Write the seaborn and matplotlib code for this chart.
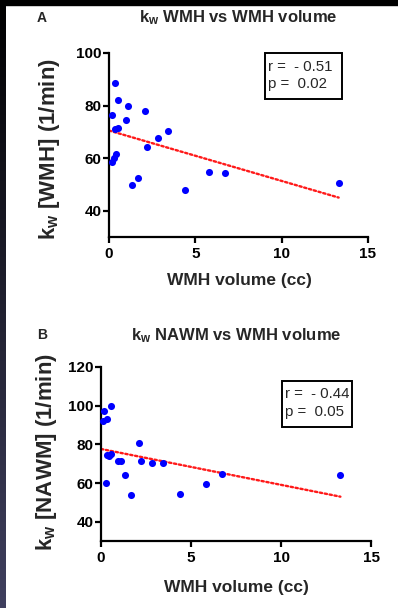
import numpy as np
import pandas as pd
import matplotlib
matplotlib.use("Agg")
import matplotlib.pyplot as plt
from matplotlib.patches import Rectangle
import seaborn as sns

# ---- data ----
wmh_vol_a = [0.37, 0.52, 0.19, 1.08, 2.10, 0.98, 0.33, 0.52, 3.44, 2.84,
             2.20, 0.41, 0.27, 0.15, 1.66, 1.31, 4.42, 5.81, 6.74, 13.30]
kw_wmh = [88.6, 82.3, 76.5, 79.7, 78.1, 74.7, 71.1, 71.4, 70.5, 67.5,
          64.1, 61.4, 60.1, 58.6, 52.5, 49.7, 47.8, 54.8, 54.2, 50.6]
fit_x_a = [0.0, 13.3]
fit_y_a = [70.5, 45.0]

wmh_vol_b = [0.19, 0.54, 0.09, 0.35, 2.10, 0.32, 0.43, 0.54, 0.96, 1.09,
             2.20, 2.82, 3.43, 1.34, 0.28, 1.65, 4.40, 5.83, 6.72, 13.27]
kw_nawm = [97.4, 99.7, 91.9, 92.9, 80.5, 74.7, 74.2, 75.0, 71.3, 71.3,
           71.3, 70.6, 70.2, 64.4, 59.9, 54.0, 54.4, 59.5, 64.7, 64.4]
fit_x_b = [0.0, 13.3]
fit_y_b = [77.6, 53.0]

x_ticks = [0, 5, 10, 15]
y_ticks_a = [40, 60, 80, 100]
y_ticks_b = [40, 60, 80, 100, 120]
stats_a = "r =  - 0.51\np =  0.02"
stats_b = "r =  - 0.44\np =  0.05"

# ---- style ----
sns.set_theme(style="ticks")
plt.rcParams["font.family"] = ["Liberation Sans", "DejaVu Sans"]
plt.rcParams["font.weight"] = "bold"
plt.rcParams["mathtext.fontset"] = "custom"
plt.rcParams["mathtext.rm"] = "Liberation Sans:bold"
plt.rcParams["mathtext.bf"] = "Liberation Sans:bold"
plt.rcParams["mathtext.it"] = "Liberation Sans:bold"

W, H = 398, 608
fig = plt.figure(figsize=(W / 100, H / 100), dpi=100)
fig.patch.set_facecolor("white")

# dark frame: top band and left gradient strip
fig.patches.append(Rectangle((0, 1 - 5 / H), 1, 5 / H, transform=fig.transFigure,
                             color="black", zorder=0))
strip = fig.add_axes([0, 0, 6 / W, 1])
grad = np.linspace(0, 1, 256).reshape(-1, 1)
cmap = matplotlib.colors.LinearSegmentedColormap.from_list("s", ["#000000", "#40405f"])
strip.imshow(grad, aspect="auto", cmap=cmap, extent=[0, 1, 1, 0])
strip.set_axis_off()

axA = fig.add_axes([109 / W, 1 - 237 / H, 259 / W, 184 / H])
axB = fig.add_axes([101 / W, 1 - 541.3 / H, 270 / W, 174.6 / H])


def panel(ax, x, y, fx, fy, ylim, yticks, ylabel, title, stats,
          box, txt_x, txt_y, ylab_xy, xlab_xy, title_xy):
    df = pd.DataFrame({"x": x, "y": y})
    sns.lineplot(x=fx, y=fy, ax=ax, color="#ff1a1a", lw=1.7,
                 ls=(0, (1, 1.1)), dash_capstyle="round", zorder=2)
    sns.scatterplot(data=df, x="x", y="y", ax=ax, color="#0000ff", s=26,
                    linewidth=0, clip_on=False, zorder=4)
    ax.set_xlim(0, 15)
    ax.set_ylim(*ylim)
    ax.set_xticks(x_ticks)
    ax.set_yticks(yticks)
    sns.despine(ax=ax)
    for s in ("left", "bottom"):
        ax.spines[s].set_linewidth(1.6)
        ax.spines[s].set_color("black")
    ax.tick_params(width=1.6, length=4, labelsize=11, color="black",
                   labelcolor="black")
    ax.tick_params(axis="y", pad=1.5)
    ax.tick_params(axis="x", pad=3)
    ax.set_xlabel("WMH volume (cc)", fontsize=12.5, fontweight="bold")
    ax.xaxis.set_label_coords(*xlab_xy)
    ax.xaxis.label.set_va("center")
    ax.set_ylabel(ylabel, fontsize=16, fontweight="bold")
    ax.yaxis.set_label_coords(*ylab_xy)
    ax.yaxis.label.set_va("center")
    ax.set_title(title, fontsize=12, fontweight="bold", x=title_xy[0],
                 y=title_xy[1], va="center", pad=0)
    bx0, by0, bx1, by1 = box
    ax.add_patch(Rectangle((bx0, by0), bx1 - bx0, by1 - by0, transform=ax.transAxes,
                           fill=False, lw=1.4, edgecolor="black", clip_on=False, zorder=5))
    l1, l2 = stats.split("\n")
    ax.text(txt_x, txt_y[0], l1, transform=ax.transAxes, fontsize=10.8,
            fontweight="normal", ha="left", va="center")
    ax.text(txt_x, txt_y[1], l2, transform=ax.transAxes, fontsize=10.8,
            fontweight="normal", ha="left", va="center")


panel(axA, wmh_vol_a, kw_wmh, fit_x_a, fit_y_a, (30, 100), y_ticks_a,
      r"$\mathbf{k_w}$ [WMH] (1/min)", r"$\mathbf{k_w}$ WMH vs WMH volume",
      stats_a, (0.602, 0.75, 0.90, 1.0), 0.612, (0.926, 0.83),
      (-0.228, 0.48), (0.502, -0.239), (0.498, 1.19))
panel(axB, wmh_vol_b, kw_nawm, fit_x_b, fit_y_b, (30, 120), y_ticks_b,
      r"$\mathbf{k_w}$ [NAWM] (1/min)", r"$\mathbf{k_w}$ NAWM vs WMH volume",
      stats_b, (0.67, 0.655, 0.93, 0.918), 0.680, (0.844, 0.739),
      (-0.201, 0.514), (0.5, -0.262), (0.5, 1.178))

fig.text(37 / W, 1 - 18 / H, "A", fontsize=10, fontweight="bold", ha="left", va="center")
fig.text(37 / W, 1 - 335 / H, "B", fontsize=10, fontweight="bold", ha="left", va="center")

fig.savefig("out.png", dpi=100)
